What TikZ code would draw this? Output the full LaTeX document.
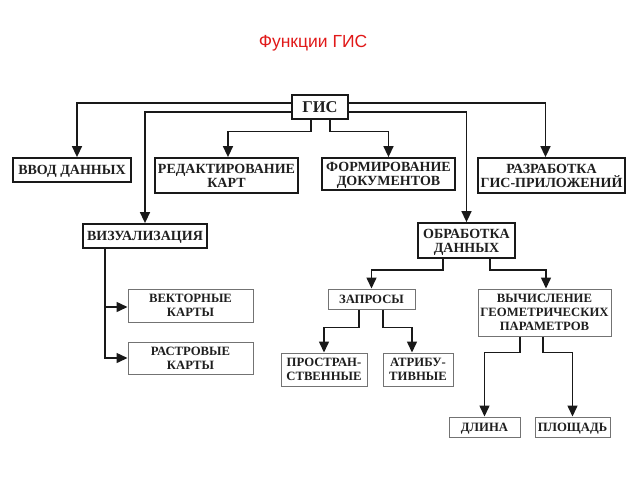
\documentclass[tikz,border=0pt]{standalone}
\usepackage{fontspec}
\setmainfont{Liberation Serif}
\newfontfamily\titlefont{Liberation Sans}
\usetikzlibrary{arrows.meta}
\definecolor{titlered}{RGB}{225,25,25}
\definecolor{lineclr}{RGB}{25,25,25}
\tikzset{
  box/.style={draw=lineclr, line width=1.8pt, inner sep=0pt, align=center, text depth=0pt,
    font=\bfseries\fontsize{14}{14}\selectfont, text=black!88},
  mainbox/.style={box, line width=2.6pt, font=\bfseries\fontsize{16.5}{16}\selectfont},
  thinbox/.style={box, draw=black!55, line width=1pt, font=\bfseries\fontsize{12.7}{14}\selectfont},
  conn/.style={draw=lineclr, line width=1.5pt, -{Triangle[width=10pt,length=11pt]}},
}
\begin{document}
\begin{tikzpicture}[x=1pt,y=-1pt]
\useasboundingbox[fill=white] (0,0) rectangle (640,480);
\node[text=titlered, font=\titlefont\fontsize{17.5}{18}\selectfont] (title) at (313,43) {Функции ГИС};

\node[mainbox, minimum width=56, minimum height=24] (gis) at (320,107) {ГИС};
\node[box, minimum width=118, minimum height=24] (vvod) at (72,170) {ВВОД ДАННЫХ};
\node[box, minimum width=143, minimum height=35] (red) at (226.5,175.5) {РЕДАКТИРОВАНИЕ\\КАРТ};
\node[box, minimum width=133, minimum height=32] (form) at (388.5,174) {ФОРМИРОВАНИЕ\\ДОКУМЕНТОВ};
\node[box, minimum width=147, minimum height=35] (razr) at (551.5,175.5) {РАЗРАБОТКА\\ГИС-ПРИЛОЖЕНИЙ};
\node[box, minimum width=124, minimum height=24] (vis) at (145,236) {ВИЗУАЛИЗАЦИЯ};
\node[box, minimum width=97, minimum height=35] (obr) at (466.5,240.5) {ОБРАБОТКА\\ДАННЫХ};

\node[thinbox, minimum width=125, minimum height=33] (vek) at (190.5,305.5) {ВЕКТОРНЫЕ\\КАРТЫ};
\node[thinbox, minimum width=125, minimum height=32] (ras) at (190.5,358) {РАСТРОВЫЕ\\КАРТЫ};
\node[thinbox, minimum width=87, minimum height=20] (zap) at (371.5,299) {ЗАПРОСЫ};
\node[thinbox, minimum width=133, minimum height=47] (vych) at (544.5,312.5) {ВЫЧИСЛЕНИЕ\\ГЕОМЕТРИЧЕСКИХ\\ПАРАМЕТРОВ};
\node[thinbox, minimum width=86, minimum height=33] (prost) at (324,369.5) {ПРОСТРАН-\\СТВЕННЫЕ};
\node[thinbox, minimum width=70, minimum height=33] (atr) at (418,369.5) {АТРИБУ-\\ТИВНЫЕ};
\node[thinbox, minimum width=71, minimum height=20] (dl) at (484.5,427) {ДЛИНА};
\node[thinbox, minimum width=75, minimum height=20] (pl) at (572.5,427) {ПЛОЩАДЬ};

\draw[conn] ([yshift=4pt]gis.west) -| ([xshift=5pt]vvod.north);
\draw[conn] ([yshift=-5pt]gis.west) -| (vis.north);
\draw[conn] ([xshift=-9pt]gis.south) -- ++(0,11) -| ([xshift=1.5pt]red.north);
\draw[conn] ([xshift=10pt]gis.south) -- ++(0,11) -| (form.north);
\draw[conn] ([yshift=4pt]gis.east) -| ([xshift=-6pt]razr.north);
\draw[conn] ([yshift=-5pt]gis.east) -| (obr.north);

\draw[conn] ([xshift=-40pt]vis.south) |- ([yshift=-1.5pt]vek.west);
\draw[conn] ([xshift=-40pt]vis.south) |- (ras.west);

\draw[conn] ([xshift=-23.5pt]obr.south) -- ++(0,11) -| (zap.north);
\draw[conn] ([xshift=23.5pt]obr.south) -- ++(0,11) -| ([xshift=1.5pt]vych.north);

\draw[conn] ([xshift=-12.5pt]zap.south) -- ++(0,18) -| (prost.north);
\draw[conn] ([xshift=11.5pt]zap.south) -- ++(0,18) -| ([xshift=-6pt]atr.north);

\draw[conn] ([xshift=-24.5pt]vych.south) -- ++(0,16) -| (dl.north);
\draw[conn] ([xshift=-1.5pt]vych.south) -- ++(0,16) -| (pl.north);
\end{tikzpicture}
\end{document}
